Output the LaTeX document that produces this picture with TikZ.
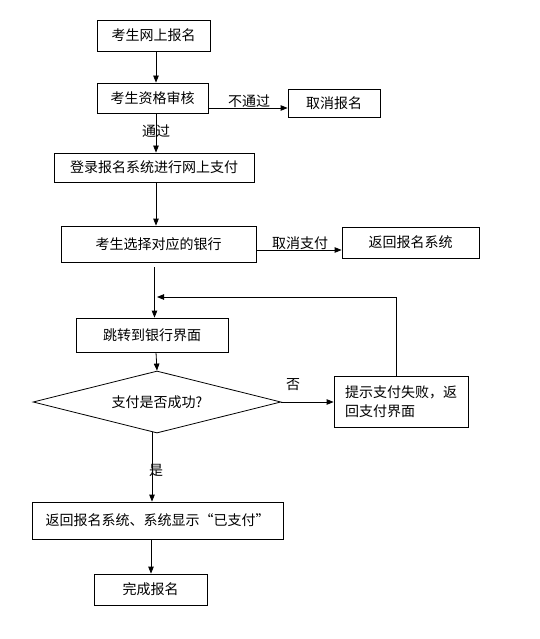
\documentclass[tikz,border=0pt]{standalone}
\usepackage{fontspec}
\setmainfont{Noto Sans CJK SC}
\usetikzlibrary{shapes.geometric,arrows.meta}
\begin{document}
\begin{tikzpicture}[x=1pt,y=-1pt,
  box/.style={draw, line width=0.8pt, inner sep=0pt, font=\fontsize{14}{16}\selectfont},
  arr/.style={draw, line width=0.8pt, -{Triangle[length=7pt,width=5.5pt]}},
  ln/.style={draw, line width=0.8pt},
  lbl/.style={font=\fontsize{14}{16}\selectfont, inner sep=0pt}]
\useasboundingbox (0,0) rectangle (539,639);
\fill[white] (0,0) rectangle (539,639);

\node[box, minimum width=113pt, minimum height=31pt] (b1) at (153.5,35.5) {考生网上报名};
\node[box, minimum width=111pt, minimum height=30pt] (b2) at (152.5,98) {考生资格审核};
\node[box, minimum width=92pt, minimum height=28pt] (cancel) at (334,103) {取消报名};
\node[box, minimum width=200pt, minimum height=29pt] (b3) at (154,167.5) {登录报名系统进行网上支付};
\node[box, minimum width=195pt, minimum height=36pt] (b4) at (158.5,244) {考生选择对应的银行};
\node[box, minimum width=137pt, minimum height=31pt] (ret) at (410.5,242.5) {返回报名系统};
\node[box, minimum width=152pt, minimum height=34pt] (b5) at (152,335) {跳转到银行界面};
\node[box, diamond, aspect=4, minimum width=248pt, minimum height=62pt] (dec) at (157,402) {支付是否成功?};
\node[box, minimum width=134pt, minimum height=51pt, text width=112pt, align=left,
      font=\fontsize{14}{19}\selectfont] (tip) at (401,401.5) {提示支付失败，返\\回支付界面};
\node[box, minimum width=251pt, minimum height=37pt] (b6) at (157.5,520.5) {返回报名系统、系统显示“已支付”};
\node[box, minimum width=113pt, minimum height=31pt] (b7) at (150.5,589.5) {完成报名};

\coordinate (c1) at (156,0);
\coordinate (c2) at (154.5,0);
\coordinate (c3) at (152,0);
\coordinate (c4) at (151,0);
\coordinate (top) at (396,297);
\coordinate (join) at (157,297);
\coordinate (y1) at (0,108);
\coordinate (y2) at (0,250);
\coordinate (s4) at (154.5,267);

\draw[arr] (c1 |- b1.south) -- (c1 |- b2.north);
\draw[arr] (c1 |- b2.south) -- (c1 |- b3.north);
\draw[arr] (c1 |- b3.south) -- (c1 |- b4.north);
\draw[arr] (s4) -- (c2 |- b5.north);
\draw[arr] (c1 |- b5.south) -- (dec.north);
\draw[arr] (dec.south) ++(-5,-1.5) coordinate (ds) (ds) -- (ds |- b6.north);
\draw[arr] (c4 |- b6.south) -- (c4 |- b7.north);

\draw[arr] (b2.east |- y1) -- (cancel.west |- y1);
\draw[arr] (b4.east |- y2) -- (ret.west |- y2);
\draw[arr] (dec.east) -- (tip.west |- dec.east);
\draw[arr] (top |- tip.north) -- (top) -- (join);

\node[lbl] (l1) at (249,101) {不通过};
\node[lbl] (l2) at (156,131) {通过};
\node[lbl] (l3) at (300,243) {取消支付};
\node[lbl] (l4) at (293,385) {否};
\node[lbl] (l5) at (156,470) {是};
\end{tikzpicture}
\end{document}
